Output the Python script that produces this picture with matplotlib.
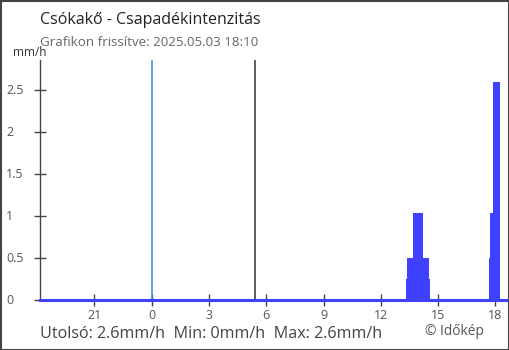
import matplotlib
matplotlib.use("Agg")
import matplotlib.pyplot as plt
from matplotlib.patches import Rectangle
from matplotlib.transforms import blended_transform_factory

plt.rcParams['font.family'] = ['Open Sans', 'DejaVu Sans']

# precipitation intensity, step data (hours relative to midnight, mm/h)
times = [-5.83, 13.30, 13.35, 13.67, 14.19, 14.50, 14.56, 17.66, 17.71, 17.85, 18.24, 18.66]
values = [0, 0.25, 0.5, 1.04, 0.5, 0.25, 0, 0.5, 1.04, 2.6, 0, 0]

x_ticks = [-3, 0, 3, 6, 9, 12, 15, 18]
x_labels = ["21", "0", "3", "6", "9", "12", "15", "18"]
y_ticks = [0, 0.5, 1, 1.5, 2, 2.5]
y_labels = ["0", "0.5", "1", "1.5", "2", "2.5"]

midnight = 0
sunrise = 5.43

title = "Csókakő - Csapadékintenzitás"
subtitle = "Grafikon frissítve: 2025.05.03 18:10"
footer = "Utolsó: 2.6mm/h  Min: 0mm/h  Max: 2.6mm/h"

W, H = 510, 350
fig = plt.figure(figsize=(W / 100, H / 100), dpi=100)
ax = fig.add_axes([40 / W, 1 - 300 / H, 468 / W, 240 / H])

blue = "#4040ff"
ax.fill_between(times, values, step="post", color=blue, linewidth=0, zorder=3)
ax.axhline(0, color=blue, linewidth=2.2, zorder=4, clip_on=False)

ax.axvline(midnight, color="#3d8fcc", linewidth=1.1, zorder=2)
ax.axvline(sunrise, color="#333333", linewidth=1.1, zorder=2)

ax.set_xlim(-5.85, 18.66)
ax.set_ylim(0, 2.86)

ax.set_xticks(x_ticks)
ax.set_xticklabels(x_labels)
ax.set_yticks(y_ticks)
ax.set_yticklabels([])

for s in ["top", "right"]:
    ax.spines[s].set_visible(False)
for s in ["left", "bottom"]:
    ax.spines[s].set_color("#444444")
    ax.spines[s].set_linewidth(1)

ax.tick_params(axis="both", direction="inout", length=9, width=1,
               color="#444444", labelcolor="#555555", labelsize=9)
ax.tick_params(axis="x", pad=2)

# y labels sit left-aligned near the figure edge
ytrans = blended_transform_factory(fig.transFigure, ax.transData)
for v, lab in zip(y_ticks, y_labels):
    ax.text(6 / W, v, lab, transform=ytrans, ha="left", va="center",
            fontsize=9, color="#555555", clip_on=False)

fig.text(40 / W, 1 - 24.3 / H, title, fontsize=11.5, color="#222222", va="baseline")
fig.text(40 / W, 1 - 45.7 / H, subtitle, fontsize=9.6, color="#666666", va="baseline")
fig.text(13 / W, 1 - 55.5 / H, "mm/h", fontsize=8.5, color="#333333", va="baseline")
fig.text(40 / W, 1 - 338.3 / H, footer, fontsize=11.6, color="#444444", va="baseline")
fig.text(425 / W, 1 - 335 / H, "© Időkép", fontsize=9.9, color="#555555", va="baseline")

fig.patches.append(Rectangle((0.5 / W, 0.5 / H), 1 - 1.5 / W, 1 - 1.5 / H,
                             transform=fig.transFigure, fill=False,
                             edgecolor="#444444", linewidth=1.5))

fig.savefig("out.png", dpi=100)
